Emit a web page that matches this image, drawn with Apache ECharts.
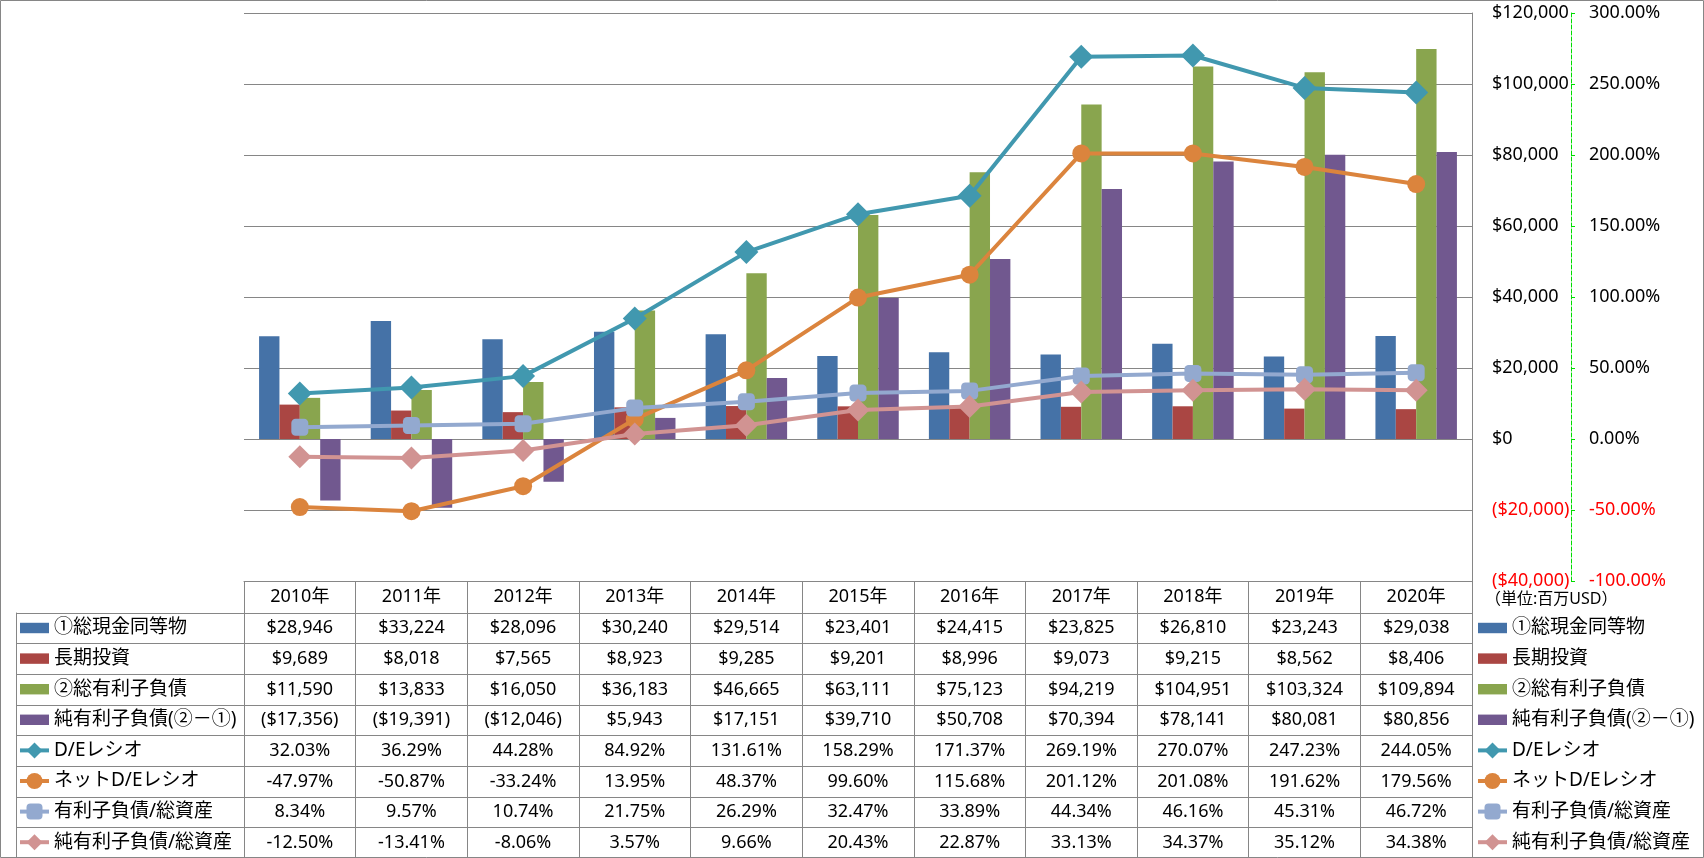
<!DOCTYPE html>
<html><head><meta charset="utf-8">
<script src="https://cdn.jsdelivr.net/npm/echarts@6/dist/echarts.min.js"></script>
<style>html,body{margin:0;padding:0;background:#fff}#c{width:1704px;height:858px}</style>
</head><body><div id="c"></div>
<script>
const years = ['2010年','2011年','2012年','2013年','2014年','2015年','2016年','2017年','2018年','2019年','2020年'];
const rowNames = ['①総現金同等物','長期投資','②総有利子負債','純有利子負債(②－①)','D/Eレシオ','ネットD/Eレシオ','有利子負債/総資産','純有利子負債/総資産'];
const cash = [28946,33224,28096,30240,29514,23401,24415,23825,26810,23243,29038];
const ltInvest = [9689,8018,7565,8923,9285,9201,8996,9073,9215,8562,8406];
const debt = [11590,13833,16050,36183,46665,63111,75123,94219,104951,103324,109894];
const netDebt = [-17356,-19391,-12046,5943,17151,39710,50708,70394,78141,80081,80856];
const deRatio = [32.03,36.29,44.28,84.92,131.61,158.29,171.37,269.19,270.07,247.23,244.05];
const netDeRatio = [-47.97,-50.87,-33.24,13.95,48.37,99.60,115.68,201.12,201.08,191.62,179.56];
const debtToAssets = [8.34,9.57,10.74,21.75,26.29,32.47,33.89,44.34,46.16,45.31,46.72];
const netDebtToAssets = [-12.50,-13.41,-8.06,3.57,9.66,20.43,22.87,33.13,34.37,35.12,34.38];

const FONT = '"Noto Sans", "Noto Sans CJK JP", sans-serif';
const GRID_COLOR = '#868686';
const colors = ['#4572A7','#AA4643','#89A54E','#71588F','#4198AF','#DB843D','#93A9CF','#D19392'];

function fmtMoney(v){
  const s = String(Math.abs(v)).replace(/\B(?=(\d{3})+(?!\d))/g, ',');
  return v < 0 ? '($' + s + ')' : '$' + s;
}
function fmtPct(v){ return v.toFixed(2) + '%'; }

const rows = [cash, ltInvest, debt, netDebt, deRatio, netDeRatio, debtToAssets, netDebtToAssets];
const cellData = [];
const cellText = [];
rows.forEach((arr, r) => {
  arr.forEach((v, c) => {
    cellData.push([c, r]);
    cellText.push(r < 4 ? fmtMoney(v) : fmtPct(v));
  });
});

const barIcon = 'path://M0 0H25V9H0Z';
const legendData = rowNames.map((n, i) => i < 4 ? {name: n, icon: barIcon} : {name: n});

const chart = echarts.init(document.getElementById('c'));
const legendCommon = {
  orient: 'vertical', top: 618, padding: 0, itemWidth: 29, itemHeight: 20,
  itemGap: 10.6, itemTextGap: 3, selectedMode: false, data: legendData,
  lineStyle: {width: 4},
  textStyle: {fontFamily: FONT, fontSize: 19, color: '#000', lineHeight: 20}
};

chart.setOption({
  animation: false,
  backgroundColor: '#fff',
  color: colors,
  title: {
    text: '（単位:百万USD）', left: 1485, top: 591, padding: 0,
    textStyle: {fontFamily: FONT, fontSize: 16, fontWeight: 'normal', color: '#000'}
  },
  legend: [
    Object.assign({left: 18}, legendCommon),
    Object.assign({left: 1476}, legendCommon)
  ],
  grid: [
    {left: 244, top: 13, width: 1228, height: 568},
    {left: 244, top: 613, width: 1228, height: 245}
  ],
  xAxis: [
    {type: 'category', gridIndex: 0, data: years, position: 'bottom',
     axisLine: {show: true, onZero: false, lineStyle: {color: GRID_COLOR}},
     axisTick: {show: true, length: 32, lineStyle: {color: GRID_COLOR}},
     axisLabel: {margin: 7, fontFamily: FONT, fontSize: 18, color: '#000'},
     splitLine: {show: false}},
    {type: 'category', gridIndex: 1, data: years, position: 'top',
     axisLine: {show: true, onZero: false, lineStyle: {color: GRID_COLOR}},
     axisTick: {show: false}, axisLabel: {show: false},
     splitLine: {show: true, lineStyle: {color: GRID_COLOR}}}
  ],
  yAxis: [
    {type: 'value', gridIndex: 0, position: 'right', min: -40000, max: 120000, interval: 20000,
     axisLine: {show: true, lineStyle: {color: GRID_COLOR}},
     axisTick: {show: false},
     axisLabel: {margin: 20, fontFamily: FONT, fontSize: 18,
       formatter: v => fmtMoney(v), color: v => (v < 0 ? '#ff0000' : '#000')},
     splitLine: {show: true, lineStyle: {color: GRID_COLOR}}},
    {type: 'value', gridIndex: 0, position: 'right', offset: 99, min: -100, max: 300, interval: 50,
     axisLine: {show: true, lineStyle: {color: '#00dd00', type: 'dashed'}},
     axisTick: {show: true, length: 4, lineStyle: {color: '#00dd00'}},
     axisLabel: {margin: 18, fontFamily: FONT, fontSize: 18,
       formatter: v => fmtPct(v), color: v => (v < 0 ? '#ff0000' : '#000')},
     splitLine: {show: false}},
    {type: 'category', gridIndex: 1, data: rowNames, inverse: true, position: 'left',
     axisLine: {show: true, lineStyle: {color: GRID_COLOR}},
     axisTick: {show: true, length: 228, lineStyle: {color: GRID_COLOR}},
     axisLabel: {show: false},
     splitLine: {show: true, lineStyle: {color: GRID_COLOR}}},
    {type: 'category', gridIndex: 1, data: rowNames, inverse: true, position: 'left', offset: 228,
     axisLine: {show: true, lineStyle: {color: GRID_COLOR}},
     axisTick: {show: false}, axisLabel: {show: false}, splitLine: {show: false}}
  ],
  graphic: [
    {type: 'rect', shape: {x: 0.5, y: 0.5, width: 1703, height: 857}, silent: true,
     style: {fill: 'none', stroke: GRID_COLOR, lineWidth: 1}}
  ],
  series: [
    {name: rowNames[0], type: 'bar', xAxisIndex: 0, yAxisIndex: 0, data: cash, barGap: '0%', barCategoryGap: '27%'},
    {name: rowNames[1], type: 'bar', xAxisIndex: 0, yAxisIndex: 0, data: ltInvest, barGap: '0%', barCategoryGap: '27%'},
    {name: rowNames[2], type: 'bar', xAxisIndex: 0, yAxisIndex: 0, data: debt, barGap: '0%', barCategoryGap: '27%'},
    {name: rowNames[3], type: 'bar', xAxisIndex: 0, yAxisIndex: 0, data: netDebt, barGap: '0%', barCategoryGap: '27%'},
    {name: rowNames[4], type: 'line', xAxisIndex: 0, yAxisIndex: 1, data: deRatio,
     symbol: 'diamond', symbolSize: 24, lineStyle: {width: 4}},
    {name: rowNames[5], type: 'line', xAxisIndex: 0, yAxisIndex: 1, data: netDeRatio,
     symbol: 'circle', symbolSize: 18, lineStyle: {width: 4}},
    {name: rowNames[6], type: 'line', xAxisIndex: 0, yAxisIndex: 1, data: debtToAssets,
     symbol: 'roundRect', symbolSize: 17, lineStyle: {width: 4}},
    {name: rowNames[7], type: 'line', xAxisIndex: 0, yAxisIndex: 1, data: netDebtToAssets,
     symbol: 'diamond', symbolSize: 23, lineStyle: {width: 4}},
    {name: 'table', type: 'custom', xAxisIndex: 1, yAxisIndex: 2, data: cellData, silent: true,
     renderItem: function(params, api){
       const p = api.coord([api.value(0), api.value(1)]);
       return {type: 'text', x: p[0], y: p[1],
         style: {text: cellText[params.dataIndex], align: 'center', verticalAlign: 'middle',
           fill: '#000', fontFamily: FONT, fontSize: 18}};
     }}
  ]
});
</script>
</body></html>
